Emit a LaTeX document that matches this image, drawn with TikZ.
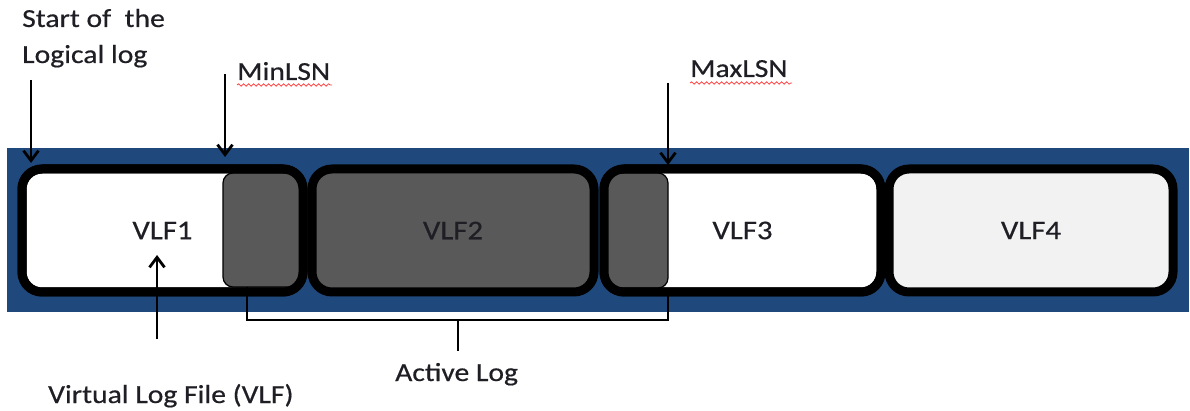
\documentclass[tikz,border=0pt]{standalone}
\usepackage{fontspec}
\setmainfont{Carlito}[FakeStretch=1.14, FakeBold=0.5]
\usetikzlibrary{arrows.meta,decorations.pathmorphing}
\definecolor{bandblue}{RGB}{31,73,125}
\definecolor{darkfill}{RGB}{89,89,89}
\definecolor{lightfill}{RGB}{242,242,242}
\definecolor{txt}{RGB}{30,30,36}
\tikzset{
  vlfbox/.style={draw=black, line width=9pt, rounded corners=20pt, outer sep=0pt, inner sep=0pt,
    minimum height=123pt, text=txt, font=\fontsize{27}{30}\selectfont},
  grayrect/.style={draw=black, line width=1.2pt, fill=darkfill, rounded corners=10pt},
  pointer/.style={line width=2.8pt, -{Straight Barb[length=10pt,width=15pt,line width=2.8pt]}},
  bracketline/.style={line width=2pt},
  label/.style={inner sep=0pt, anchor=base west, text=txt, font=\fontsize{26}{30}\selectfont},
  squiggle/.style={red!75, line width=0.8pt, decorate, decoration={snake, amplitude=1.2pt, segment length=5pt}}
}
\begin{document}
\begin{tikzpicture}[x=1pt,y=-1pt]
\useasboundingbox (0,0) rectangle (1190,411);
% blue band
\fill[bandblue] (7,148) rectangle (1189,312);
% VLF boxes
\node[vlfbox, fill=white, minimum width=281pt] (vlf1) at (162.5,230.5) {VLF1};
\node[vlfbox, fill=darkfill, minimum width=282pt] (vlf2) at (453,230.5) {VLF2};
\node[vlfbox, fill=white, minimum width=277pt] (vlf3) at (742.5,230.5) {VLF3};
\node[vlfbox, fill=lightfill, minimum width=284pt] (vlf4) at (1031,230.5) {VLF4};
% active parts
\draw[grayrect] (223,173) rectangle (301,287);
\draw[grayrect] (606,173) rectangle (668,288);
% redraw borders on top
\draw[line width=9pt, rounded corners=20pt] (vlf1.south west) rectangle (vlf1.north east);
\draw[line width=9pt, rounded corners=20pt] (vlf3.south west) rectangle (vlf3.north east);
% labels
\node[label] (start1) at (22,27) {Start of\ \ the};
\node[label] (start2) at (22,63) {Logical log};
\node[label] (minlsn) at (237,80) {MinLSN};
\node[label] (maxlsn) at (690,77) {MaxLSN};
\node[label] (vlflabel) at (48,403) {Virtual Log File (VLF)};
\node[label] (active) at (395,381) {Active Log};
% spell-check squiggles
\coordinate (m1) at (237,85); \coordinate (m2) at (332,85);
\coordinate (x1) at (690,83); \coordinate (x2) at (792,83);
\draw[squiggle] (m1) -- (m2);
\draw[squiggle] (x1) -- (x2);
% arrows
\coordinate (sa) at (31,80);  \coordinate (sb) at (31,163);
\coordinate (na) at (225,74); \coordinate (nb) at (225,157);
\coordinate (xa) at (668,83); \coordinate (xb) at (668,165);
\coordinate (va) at (157,339); \coordinate (vb) at (157,255);
\draw[pointer] (sa) -- (sb);
\draw[pointer] (na) -- (nb);
\draw[pointer] (xa) -- (xb);
\draw[pointer] (va) -- (vb);
% bracket
\coordinate (b1) at (247,287); \coordinate (b2) at (247,320);
\coordinate (b3) at (668,320); \coordinate (b4) at (668,288);
\coordinate (st1) at (458,320); \coordinate (st2) at (458,351);
\draw[bracketline] (b1) -- (b2) -- (b3) -- (b4);
\draw[bracketline] (st1) -- (st2);
\end{tikzpicture}
\end{document}
